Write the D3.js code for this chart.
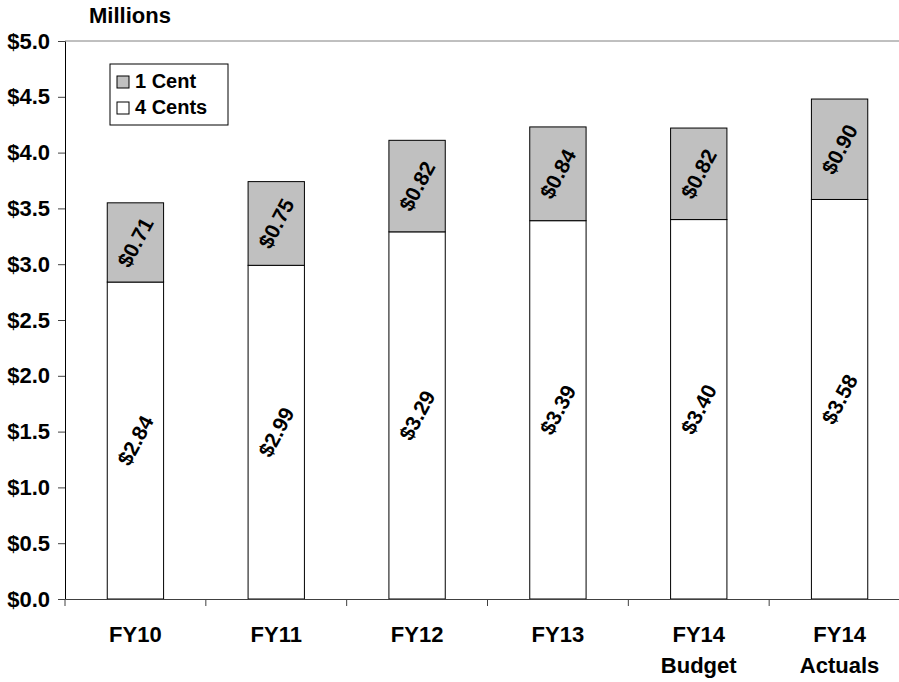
<!DOCTYPE html>
<html>
<head>
<meta charset="utf-8">
<script src="https://cdn.jsdelivr.net/npm/d3@7"></script>
<style>
body { margin: 0; background: #fff; }
text { font-family: "Liberation Sans", Arial, sans-serif; font-weight: bold; }
</style>
</head>
<body>
<svg></svg>
<script>
// chart data
var categories = ["FY10", "FY11", "FY12", "FY13", "FY14\nBudget", "FY14\nActuals"];
var fourCents = [2.84, 2.99, 3.29, 3.39, 3.40, 3.58];
var oneCent = [0.71, 0.75, 0.82, 0.84, 0.82, 0.90];
var yTicks = [0, 0.5, 1, 1.5, 2, 2.5, 3, 3.5, 4, 4.5, 5];
var seriesNames = ["1 Cent", "4 Cents"];

var width = 899;
var height = 682;
var plotLeft = 65, plotRight = 910, plotTop = 41, plotBottom = 599;
var fontSize = 22;

var svg = d3.select("svg")
	.attr("width", width)
	.attr("height", height);

var Xscale = d3.scaleBand()
	.domain(categories)
	.range([plotLeft, plotRight])
	.paddingInner(0.6)
	.paddingOuter(0.3);

var bandScale = d3.scaleBand()
	.domain(categories)
	.range([plotLeft, plotRight]);

var Yscale = d3.scaleLinear()
	.domain([0, 5])
	.range([plotBottom, plotTop]);

var rows = categories.map((c, i) => ({cat: c, four: fourCents[i], one: oneCent[i]}));

// top border of plot area
svg.append("line")
	.attr("x1", plotLeft).attr("x2", plotRight)
	.attr("y1", Yscale(5)).attr("y2", Yscale(5))
	.attr("stroke", "#808080");

// bars: 4 cents (bottom)
svg.selectAll("rect.four")
	.data(rows)
	.enter()
	.append("rect")
	.attr("class", "four")
	.attr("x", d => Xscale(d.cat))
	.attr("width", Xscale.bandwidth())
	.attr("y", d => Yscale(d.four))
	.attr("height", d => Yscale(0) - Yscale(d.four))
	.attr("fill", "#fff")
	.attr("stroke", "#000")
	.attr("stroke-width", 1);

// bars: 1 cent (top)
svg.selectAll("rect.one")
	.data(rows)
	.enter()
	.append("rect")
	.attr("class", "one")
	.attr("x", d => Xscale(d.cat))
	.attr("width", Xscale.bandwidth())
	.attr("y", d => Yscale(d.four + d.one))
	.attr("height", d => Yscale(d.four) - Yscale(d.four + d.one))
	.attr("fill", "#c0c0c0")
	.attr("stroke", "#000")
	.attr("stroke-width", 1);

// value labels, rotated
function valueLabels(cls, accessor, mid) {
	svg.selectAll("text." + cls)
		.data(rows)
		.enter()
		.append("text")
		.attr("class", cls)
		.attr("transform", d => "translate(" + (Xscale(d.cat) + Xscale.bandwidth() / 2) + "," + Yscale(mid(d)) + ") rotate(-62)")
		.attr("text-anchor", "middle")
		.attr("dy", "0.35em")
		.attr("font-size", 21)
		.text(d => "$" + accessor(d).toFixed(2));
}
valueLabels("v4", d => d.four, d => d.four / 2);
valueLabels("v1", d => d.one, d => d.four + d.one / 2);

// y axis
var yAxis = d3.axisLeft(Yscale)
	.tickValues(yTicks)
	.tickSize(7)
	.tickSizeOuter(0)
	.tickPadding(8)
	.tickFormat(d => "$" + d3.format(".1f")(d));

var gy = svg.append("g")
	.attr("transform", "translate(" + plotLeft + ",0)")
	.call(yAxis);
gy.select(".domain").attr("stroke", "#000");
gy.selectAll(".tick line").attr("stroke", "#404040");
gy.selectAll(".tick text")
	.attr("font-size", fontSize)
	.attr("font-family", "Liberation Sans, Arial, sans-serif")
	.attr("font-weight", "bold")
	.attr("fill", "#000");

// x axis with ticks between categories
var xAxis = d3.axisBottom(bandScale)
	.tickSize(0)
	.tickSizeOuter(0)
	.tickFormat("");

var gx = svg.append("g")
	.attr("transform", "translate(0," + plotBottom + ")")
	.call(xAxis);
gx.select(".domain").attr("stroke", "#404040");

gx.selectAll(".sep")
	.data(categories)
	.enter()
	.append("line")
	.attr("class", "sep")
	.attr("x1", d => bandScale(d)).attr("x2", d => bandScale(d))
	.attr("y1", 0).attr("y2", 7)
	.attr("stroke", "#404040");

// category labels (two lines)
svg.selectAll("text.cat")
	.data(categories)
	.enter()
	.append("text")
	.attr("class", "cat")
	.attr("text-anchor", "middle")
	.attr("font-size", fontSize)
	.attr("x", d => bandScale(d) + bandScale.bandwidth() / 2)
	.attr("y", 642)
	.selectAll("tspan")
	.data(d => d.split("\n"))
	.enter()
	.append("tspan")
	.attr("x", function() { return this.parentNode.getAttribute("x"); })
	.attr("dy", (d, i) => i === 0 ? 0 : 31)
	.text(d => d);

// units title
svg.append("text")
	.attr("x", 130)
	.attr("y", 23)
	.attr("text-anchor", "middle")
	.attr("font-size", fontSize)
	.text("Millions");

// legend
var legend = svg.append("g").attr("transform", "translate(110,64)");
legend.append("rect")
	.attr("width", 118).attr("height", 61)
	.attr("fill", "#fff").attr("stroke", "#000");
var items = legend.selectAll("g.item")
	.data(seriesNames)
	.enter()
	.append("g")
	.attr("transform", (d, i) => "translate(7," + (12 + i * 26) + ")");
items.append("rect")
	.attr("width", 12).attr("height", 12)
	.attr("fill", (d, i) => i === 0 ? "#c0c0c0" : "#fff")
	.attr("stroke", "#000");
items.append("text")
	.attr("x", 18)
	.attr("y", 12)
	.attr("font-size", 20)
	.text(d => d);
</script>
</body>
</html>
